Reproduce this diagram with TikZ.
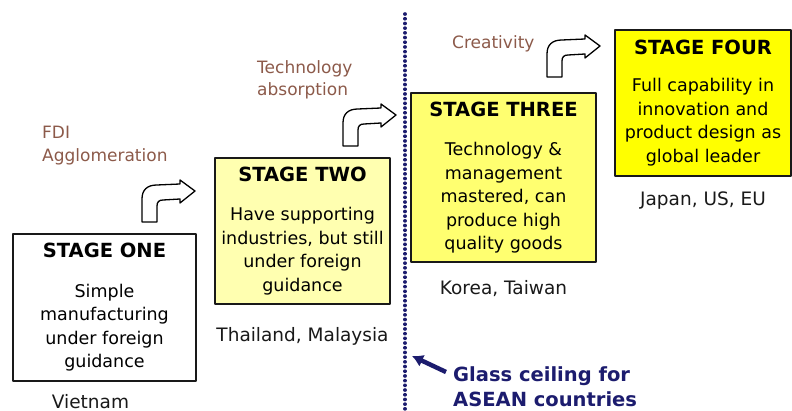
\documentclass[tikz,border=0pt]{standalone}
\usepackage{fontspec}
\setmainfont{DejaVu Sans}
\usetikzlibrary{arrows, arrows.meta, positioning}

\definecolor{pale}{RGB}{255,255,176}
\definecolor{lemon}{RGB}{255,255,112}
\definecolor{brightyellow}{RGB}{255,255,0}
\definecolor{drivertext}{RGB}{140,90,74}
\definecolor{ceilingblue}{RGB}{28,28,110}

\newcommand{\stagefont}{\fontsize{19.5}{23.5}\selectfont\bfseries}

\begin{document}
\begin{tikzpicture}[
            x = 1pt, y = -1pt, % pixel grid, y runs down
            line join = round,
            % bent arrow from one stage up to the next
            turnarrow/.pic = {
                \draw[fill = white, line width = 1.3pt]
                    (0,0) -- (0,-23) .. controls (0,-32) and (5,-37) .. (15,-37)
                    -- (38,-38) -- (38,-42) -- (53,-31) -- (38,-19) -- (38,-23)
                    -- (21,-22) .. controls (17,-22) and (15,-20) .. (15,-16)
                    -- (15,0) -- cycle;
            },
        ]
\tikzstyle{stage}=[
            shape = rectangle,
            draw = black!90,
            line width = 1.6pt,
            align = center,
            inner sep = 0pt,
            text = black,
            font = \fontsize{17.5}{23.5}\selectfont
        ]
\tikzstyle{country}=[
            inner sep = 0pt,
            text = black!90,
            font = \fontsize{18.5}{22}\selectfont
        ]
\tikzstyle{driver}=[
            anchor = north west,
            align = left,
            inner sep = 0pt,
            text = drivertext,
            font = \fontsize{17}{22.5}\selectfont
        ]
\useasboundingbox (0,0) rectangle (792,411);

% glass ceiling, a row of round dots
\coordinate (ceiltop) at (405,14);
\coordinate (ceilbottom) at (405,411);
\draw[ceilingblue, line width = 3.6pt, line cap = round,
      dash pattern = on 0.1pt off 4.6pt] (ceiltop) -- (ceilbottom);

% the four stages
\node[stage, fill = white, minimum width = 183pt, minimum height = 147pt] (one) at (104.5,307.5)
    {{\stagefont STAGE ONE}\\[16pt] Simple\\ manufacturing\\ under foreign\\ guidance};
\node[stage, fill = pale, minimum width = 175pt, minimum height = 146pt] (two) at (302.5,231)
    {{\stagefont STAGE TWO}\\[16pt] Have supporting\\ industries, but still\\ under foreign\\ guidance};
\node[stage, fill = lemon, minimum width = 185pt, minimum height = 169pt] (three) at (503.5,177.5)
    {{\stagefont STAGE THREE}\\[16pt] Technology \&\\ management\\ mastered, can\\ produce high\\ quality goods};
\node[stage, fill = brightyellow, minimum width = 176pt, minimum height = 146pt] (four) at (703,103)
    {{\stagefont STAGE FOUR}\\[14pt] Full capability in\\ innovation and\\ product design as\\ global leader};

% countries at each stage
\node[country, below = 12pt of one, xshift = -14pt] (vn) {Vietnam};
\node[country, below = 22pt of two] (thmy) {Thailand, Malaysia};
\node[country, below = 17pt of three] (krtw) {Korea, Taiwan};
\node[country, below = 15pt of four] (jpuseu) {Japan, US, EU};

% what moves a country up
\node[driver] (fdi) at (42,126) {FDI\\ Agglomeration};
\node[driver] (tech) at (257,60) {Technology\\ absorption};
\node[driver] (creat) at (452,35) {Creativity};

\pic at (142,222) {turnarrow};
\pic at (343,146) {turnarrow};
\pic at (547,77) {turnarrow};

% note on the ceiling
\node[anchor = north west, align = left, inner sep = 0pt, text = ceilingblue,
      font = \fontsize{19.5}{25}\selectfont\bfseries] (glass) at (453,366)
    {Glass ceiling for\\ ASEAN countries};
\coordinate (ceilhit) at (412,356);
\draw[ceilingblue, line width = 4.5pt, -{Latex[length = 11pt, width = 13pt]}]
    ([xshift = -7pt, yshift = -6pt]glass.north west) -- (ceilhit);
\end{tikzpicture}
\end{document}
